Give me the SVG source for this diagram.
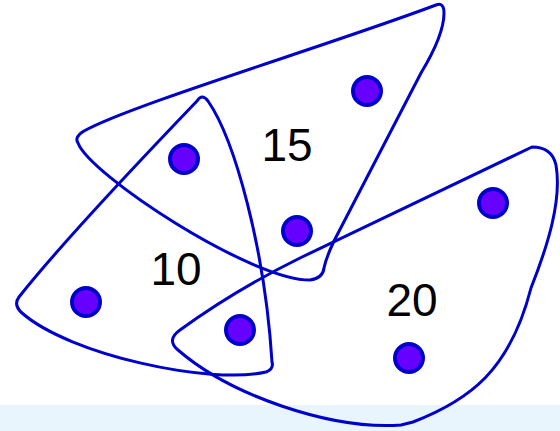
<svg xmlns="http://www.w3.org/2000/svg" width="560" height="431" viewBox="0 0 560 431">
  <style>
    .edge { fill: none; stroke: #0000CC; stroke-width: 3; stroke-linejoin: round; }
    .node { fill: #6600FF; stroke: #0000CC; stroke-width: 4; }
    .lbl { font-family: "Liberation Sans", Arial, sans-serif; font-size: 46px; fill: #000000; text-anchor: middle; }
  </style>
  <rect x="0" y="0" width="560" height="431" fill="#FFFFFF"/>
  <rect x="0" y="405" width="560" height="26" fill="#E9F5FD"/>
  <g id="connectors">
    <g id="edge15">
      <path class="edge" d="M444,13 Q444,35 421,73 L334,241 Q326,258 324,268 Q323,278 310,280 C250,280 90,175 78,143 Q74,137 84,131 C130,105 330,45 436,5 Q444,2 444,13 Z"/>
      <text class="lbl" x="287" y="161">15</text>
    </g>
    <g id="edge10">
      <path class="edge" d="M197,101 Q202,93 208,101 C235,140 265,250 272,362 Q274,369 266,372 C210,385 70,355 22,313 Q13,305 19,297 C60,245 150,150 197,101 Z"/>
      <text class="lbl" x="176" y="285">10</text>
    </g>
    <g id="edge20">
      <path class="edge" d="M532,147 L300,258 Q235,290 180,330 Q166,340 178,350 C230,395 330,430 401,425 L413,422 C470,400 510,370 531,288 C548,245 562,200 556,165 Q552,147 532,147 Z"/>
      <text class="lbl" x="412" y="316">20</text>
    </g>
  </g>
  <g id="n1"><circle class="node" cx="367" cy="91" r="14"/></g>
  <g id="n2"><circle class="node" cx="184" cy="159" r="14"/></g>
  <g id="n3"><circle class="node" cx="297" cy="231" r="14"/></g>
  <g id="n4"><circle class="node" cx="86" cy="302" r="14"/></g>
  <g id="n5"><circle class="node" cx="240" cy="330" r="14"/></g>
  <g id="n6"><circle class="node" cx="493" cy="203" r="14"/></g>
  <g id="n7"><circle class="node" cx="409" cy="358" r="14"/></g>
</svg>
